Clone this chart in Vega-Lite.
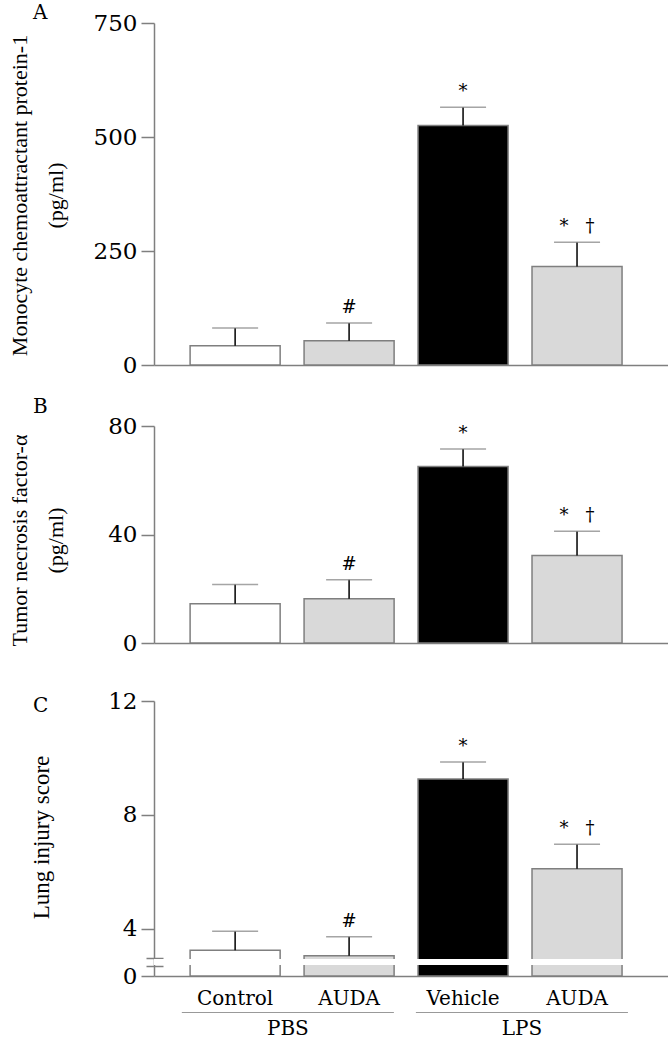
{
  "$schema": "https://vega.github.io/schema/vega-lite/v6.json",
  "background": "white",
  "padding": {"left": 8, "top": 3, "right": 0, "bottom": 0},
  "bounds": "flush",
  "spacing": 36,
  "config": {
    "view": {"stroke": null},
    "font": "DejaVu Serif",
    "axis": {"domainColor": "#7f7f7f", "domainWidth": 1.5, "tickColor": "#7f7f7f", "tickWidth": 1.5, "labelColor": "#000000", "titleColor": "#000000", "labelFont": "DejaVu Serif", "titleFont": "Liberation Serif", "titleFontWeight": "normal", "grid": false},
    "title": {"font": "DejaVu Serif", "fontSize": 20, "fontWeight": "normal", "anchor": "start", "frame": "group", "baseline": "alphabetic", "color": "#000000"}
  },
  "datasets": {
    "bars": [
      {"panel": "A", "key": "PBS-Control", "mean": 42, "upper": 81, "sig": ""},
      {"panel": "A", "key": "PBS-AUDA", "mean": 53, "upper": 92, "sig": "#"},
      {"panel": "A", "key": "LPS-Vehicle", "mean": 525, "upper": 565, "sig": "*"},
      {"panel": "A", "key": "LPS-AUDA", "mean": 216, "upper": 269, "sig": "*\u00a0\u00a0\u00a0†"},
      {"panel": "B", "key": "PBS-Control", "mean": 14.5, "upper": 21.6, "sig": ""},
      {"panel": "B", "key": "PBS-AUDA", "mean": 16.3, "upper": 23.3, "sig": "#"},
      {"panel": "B", "key": "LPS-Vehicle", "mean": 65.1, "upper": 71.5, "sig": "*"},
      {"panel": "B", "key": "LPS-AUDA", "mean": 32.3, "upper": 41.2, "sig": "*\u00a0\u00a0\u00a0†"},
      {"panel": "C", "key": "PBS-Control", "mean": 3.25, "upper": 3.92, "sig": ""},
      {"panel": "C", "key": "PBS-AUDA", "mean": 3.06, "upper": 3.73, "sig": "#"},
      {"panel": "C", "key": "LPS-Vehicle", "mean": 9.26, "upper": 9.86, "sig": "*"},
      {"panel": "C", "key": "LPS-AUDA", "mean": 6.11, "upper": 6.97, "sig": "*\u00a0\u00a0\u00a0†"}
    ],
    "groups": [{"group": "PBS"}, {"group": "LPS"}]
  },
  "vconcat": [
    {
      "width": 514, "height": 342,
      "title": {"text": "A", "dx": -121, "offset": -11},
      "data": {"name": "bars"},
      "transform": [{"filter": "datum.panel === 'A'"}],
      "layer": [
        {
          "mark": {"type": "bar", "stroke": "#7f7f7f", "strokeWidth": 1.5},
          "encoding": {
            "x": {"field": "key", "type": "nominal", "sort": null, "scale": {"domain": ["PBS-Control", "PBS-AUDA", "LPS-Vehicle", "LPS-AUDA"], "paddingInner": 0.21, "paddingOuter": 0.36, "align": 0.44}, "axis": {"title": null, "labels": false, "ticks": false, "tickSize": 0}},
            "y": {"field": "mean", "type": "quantitative", "scale": {"domain": [0, 750], "nice": false}, "axis": {"values": [0, 250, 500, 750], "tickSize": 13, "labelPadding": 4, "labelFontSize": 23, "title": ["Monocyte chemoattractant protein-1", "(pg/ml)"], "titleFontSize": 22, "titleX": -128, "titleY": 172, "titleAngle": 270, "titleBaseline": "alphabetic", "titleAlign": "center", "titleLineHeight": 36}},
            "fill": {"field": "key", "type": "nominal", "scale": {"domain": ["PBS-Control", "PBS-AUDA", "LPS-Vehicle", "LPS-AUDA"], "range": ["#ffffff", "#d9d9d9", "#000000", "#d9d9d9"]}, "legend": null}
          }
        },
        {
          "mark": {"type": "rule", "color": "#000000", "strokeWidth": 1.5},
          "encoding": {"x": {"field": "key", "type": "nominal"}, "y": {"field": "mean", "type": "quantitative"}, "y2": {"field": "upper"}}
        },
        {
          "mark": {"type": "tick", "color": "#7f7f7f", "thickness": 1.5, "size": 46},
          "encoding": {"x": {"field": "key", "type": "nominal"}, "y": {"field": "upper", "type": "quantitative"}}
        },
        {
          "mark": {"type": "text", "fontSize": 18, "baseline": "alphabetic", "dy": -10, "font": "DejaVu Serif", "color": "#000000"},
          "encoding": {"x": {"field": "key", "type": "nominal"}, "y": {"field": "upper", "type": "quantitative"}, "text": {"field": "sig"}}
        }
      ]
    },
    {
      "width": 514, "height": 242,
      "title": {"text": "B", "dx": -121, "offset": -16},
      "data": {"name": "bars"},
      "transform": [{"filter": "datum.panel === 'B'"}],
      "layer": [
        {
          "mark": {"type": "bar", "stroke": "#7f7f7f", "strokeWidth": 1.5},
          "encoding": {
            "x": {"field": "key", "type": "nominal", "sort": null, "scale": {"domain": ["PBS-Control", "PBS-AUDA", "LPS-Vehicle", "LPS-AUDA"], "paddingInner": 0.21, "paddingOuter": 0.36, "align": 0.44}, "axis": {"title": null, "labels": false, "ticks": false, "tickSize": 0}},
            "y": {"field": "mean", "type": "quantitative", "scale": {"domain": [0, 80], "range": [242, 25], "nice": false}, "axis": {"values": [0, 40, 80], "tickSize": 13, "labelPadding": 4, "labelFontSize": 23, "title": ["Tumor necrosis factor-α", "(pg/ml)"], "titleFontSize": 22, "titleX": -128, "titleY": 139, "titleAngle": 270, "titleBaseline": "alphabetic", "titleAlign": "center", "titleLineHeight": 36}},
            "fill": {"field": "key", "type": "nominal", "scale": {"domain": ["PBS-Control", "PBS-AUDA", "LPS-Vehicle", "LPS-AUDA"], "range": ["#ffffff", "#d9d9d9", "#000000", "#d9d9d9"]}, "legend": null}
          }
        },
        {
          "mark": {"type": "rule", "color": "#000000", "strokeWidth": 1.5},
          "encoding": {"x": {"field": "key", "type": "nominal"}, "y": {"field": "mean", "type": "quantitative"}, "y2": {"field": "upper"}}
        },
        {
          "mark": {"type": "tick", "color": "#7f7f7f", "thickness": 1.5, "size": 46},
          "encoding": {"x": {"field": "key", "type": "nominal"}, "y": {"field": "upper", "type": "quantitative"}}
        },
        {
          "mark": {"type": "text", "fontSize": 18, "baseline": "alphabetic", "dy": -10, "font": "DejaVu Serif", "color": "#000000"},
          "encoding": {"x": {"field": "key", "type": "nominal"}, "y": {"field": "upper", "type": "quantitative"}, "text": {"field": "sig"}}
        }
      ]
    },
    {
      "width": 514, "height": 297,
      "title": {"text": "C", "dx": -121, "offset": -37},
      "data": {"name": "bars"},
      "transform": [{"filter": "datum.panel === 'C'"}],
      "layer": [
        {
          "mark": {"type": "bar", "stroke": "#7f7f7f", "strokeWidth": 1.5},
          "encoding": {
            "x": {"field": "key", "type": "nominal", "sort": null, "scale": {"domain": ["PBS-Control", "PBS-AUDA", "LPS-Vehicle", "LPS-AUDA"], "paddingInner": 0.21, "paddingOuter": 0.36, "align": 0.44}, "axis": {"title": null, "ticks": false, "tickSize": 0, "labelAngle": 0, "labelPadding": 12, "labelFontSize": 20, "labelExpr": "split(datum.label, '-')[1]"}},
            "y": {"field": "mean", "type": "quantitative", "scale": {"domain": [2.35, 12], "range": [297, 22], "clamp": true, "zero": false, "nice": false}, "axis": {"zindex": 0, "values": [2.35, 2.7, 2.701, 2.98, 2.981, 4, 8, 12], "labelExpr": "datum.value < 2.5 ? '0' : (datum.value < 3.5 ? '' : datum.label)", "tickSize": {"condition": [{"test": "datum.value == 2.7 || datum.value == 2.98", "value": 8}, {"test": "datum.value == 2.701 || datum.value == 2.981", "value": -9}], "value": 13}, "labelPadding": 4, "labelFontSize": 23, "title": "Lung injury score", "titleFontSize": 23, "titleX": -106, "titleY": 158, "titleAngle": 270, "titleBaseline": "alphabetic", "titleAlign": "center"}},
            "fill": {"field": "key", "type": "nominal", "scale": {"domain": ["PBS-Control", "PBS-AUDA", "LPS-Vehicle", "LPS-AUDA"], "range": ["#ffffff", "#d9d9d9", "#000000", "#d9d9d9"]}, "legend": null}
          }
        },
        {
          "mark": {"type": "rule", "color": "#000000", "strokeWidth": 1.5},
          "encoding": {"x": {"field": "key", "type": "nominal"}, "y": {"field": "mean", "type": "quantitative"}, "y2": {"field": "upper"}}
        },
        {
          "mark": {"type": "tick", "color": "#7f7f7f", "thickness": 1.5, "size": 46},
          "encoding": {"x": {"field": "key", "type": "nominal"}, "y": {"field": "upper", "type": "quantitative"}}
        },
        {
          "mark": {"type": "text", "fontSize": 18, "baseline": "alphabetic", "dy": -10, "font": "DejaVu Serif", "color": "#000000"},
          "encoding": {"x": {"field": "key", "type": "nominal"}, "y": {"field": "upper", "type": "quantitative"}, "text": {"field": "sig"}}
        },
        {
          "mark": {"type": "rule", "color": "#ffffff", "strokeWidth": 6},
          "encoding": {"y": {"datum": 2.84, "type": "quantitative"}}
        }
      ]
    },
    {
      "width": 514, "height": 1,
      "data": {"name": "groups"},
      "mark": {"type": "bar", "color": "#999999"},
      "encoding": {
        "x": {"field": "group", "type": "nominal", "sort": null, "scale": {"domain": ["PBS", "LPS"], "paddingInner": 0.094, "paddingOuter": 0.145, "align": 0.41}, "axis": {"title": null, "domain": false, "ticks": false, "tickSize": 0, "labelAngle": 0, "labelPadding": 5, "labelFontSize": 20}},
        "y": {"datum": 0, "type": "quantitative", "scale": {"domain": [0, 1]}, "axis": null},
        "y2": {"datum": 1}
      }
    }
  ]
}
